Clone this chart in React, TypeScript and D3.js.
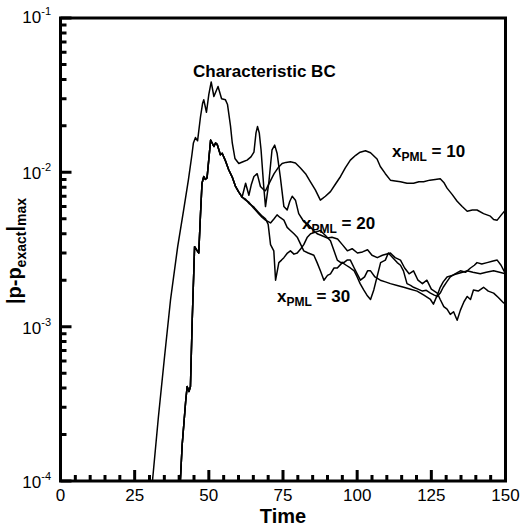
import React from "react";
import * as d3 from "d3";

// [time, |p - p_exact|_max]
const charBC: [number, number][] = [
  [31, 1.0e-4], [33, 2.6e-4], [35, 6.2e-4], [37.1, 1.5e-3], [39.5, 3.3e-3], [41.5, 5.7e-3],
  [43.1, 8.9e-3], [44.3, 1.3e-2], [44.8, 1.55e-2], [45.5, 1.68e-2], [46.2, 1.6e-2], [47.2, 2.3e-2],
  [47.9, 2.8e-2], [48.3, 2.95e-2], [49.2, 2.45e-2], [50.0, 3.2e-2], [50.8, 3.85e-2], [51.7, 3.1e-2],
  [53.1, 3.6e-2], [54.3, 3.0e-2], [55.6, 2.95e-2], [56.3, 2.75e-2], [57.3, 2.0e-2], [57.9, 1.55e-2],
  [58.8, 1.23e-2], [60.1, 1.14e-2], [61.5, 1.17e-2], [62.9, 1.2e-2], [64.2, 1.26e-2], [65.2, 1.35e-2],
  [65.9, 1.8e-2], [66.4, 1.98e-2], [67.0, 1.8e-2], [67.6, 1.4e-2], [68.5, 8.1e-3], [69.1, 6.0e-3],
  [70.2, 8.5e-3], [71.3, 1.4e-2], [72.2, 1.5e-2], [73.0, 1.33e-2], [74.1, 9.3e-3], [75.3, 6.0e-3],
  [76.4, 5.7e-3], [77.3, 6.5e-3], [78.1, 7.0e-3], [79.2, 6.6e-3], [80.3, 5.4e-3], [82.0, 4.8e-3],
  [83.5, 4.6e-3], [85.3, 4.2e-3], [86.5, 4.0e-3], [88.0, 3.9e-3], [90.0, 3.75e-3], [91.5, 3.8e-3],
  [93.4, 3.7e-3], [95.0, 3.4e-3], [96.7, 3.1e-3], [98.3, 3.2e-3], [100.1, 3.0e-3], [101.8, 3.05e-3],
  [103.5, 3.15e-3], [105.0, 2.9e-3], [106.8, 2.8e-3], [108.5, 2.9e-3], [111.2, 3.0e-3], [112.8, 2.8e-3],
  [114.6, 2.7e-3], [116, 2.4e-3], [117.5, 2.2e-3], [119, 2.3e-3], [120.5, 2.0e-3], [122, 1.9e-3],
  [123.5, 2.0e-3], [125, 1.75e-3], [127, 1.65e-3], [128, 1.5e-3], [129.2, 1.35e-3], [130.3, 1.3e-3],
  [131.4, 1.2e-3], [132.5, 1.25e-3], [133.7, 1.1e-3], [134.8, 1.28e-3], [136, 1.45e-3], [137.1, 1.57e-3],
  [138.2, 1.5e-3], [139.2, 1.73e-3], [140.8, 1.7e-3], [142.6, 1.8e-3], [144.2, 1.7e-3], [146, 1.65e-3],
  [147.5, 1.55e-3], [149.3, 1.43e-3], [150, 1.4e-3],
];

// early part shared by all three PML runs
const pmlCommon: [number, number][] = [
  [40.4, 1.0e-4], [41, 1.7e-4], [42.2, 3.3e-4], [42.7, 4.1e-4], [43.3, 3.8e-4], [43.8, 4.1e-4],
  [44.4, 1.1e-3], [45.2, 3.3e-3], [46.1, 3.1e-3], [46.6, 3.0e-3], [47.2, 5.4e-3], [47.7, 8.5e-3],
  [48.3, 9.4e-3], [48.8, 9.0e-3], [49.4, 9.2e-3], [50.6, 1.62e-2], [51.7, 1.47e-2], [52.3, 1.55e-2],
  [52.8, 1.52e-2], [53.9, 1.3e-2], [54.5, 1.33e-2], [55.5, 1.2e-2], [56.7, 1.04e-2], [58, 9.2e-3],
  [59, 8.1e-3], [60, 7.5e-3], [61.2, 6.9e-3],
];

const pml10Tail: [number, number][] = [
  [62.4, 8.5e-3], [63.5, 7.1e-3], [64.3, 8.3e-3], [65.2, 9.4e-3], [66.3, 9.8e-3], [67.4, 8.1e-3],
  [68.5, 7.7e-3], [69.1, 7.6e-3], [70.5, 8.6e-3], [72, 9.8e-3], [73.5, 1.08e-2], [74.7, 1.14e-2],
  [76, 1.16e-2], [77.5, 1.17e-2], [79.2, 1.15e-2], [80.8, 1.07e-2], [82.6, 9.8e-3], [84.2, 8.7e-3],
  [85.9, 7.7e-3], [87.6, 6.6e-3], [89.3, 7.0e-3], [91, 7.5e-3], [92.7, 8.4e-3], [94.4, 9.4e-3],
  [96, 1.07e-2], [97.7, 1.2e-2], [99.5, 1.29e-2], [101, 1.35e-2], [102.8, 1.38e-2], [104.5, 1.34e-2],
  [106.7, 1.22e-2], [107.8, 1.09e-2], [109.5, 9.8e-3], [111.2, 8.9e-3], [112.8, 8.8e-3], [114.6, 8.7e-3],
  [116.8, 8.5e-3], [119, 8.5e-3], [120.8, 8.7e-3], [122.4, 8.7e-3], [124.5, 8.9e-3], [126.3, 9.0e-3],
  [128, 9.1e-3], [129.2, 8.6e-3], [130.3, 7.9e-3], [132, 7.2e-3], [133.7, 6.5e-3], [135.4, 6.0e-3],
  [137.1, 5.6e-3], [138.8, 5.7e-3], [140.4, 5.7e-3], [142.6, 5.4e-3], [144.9, 5.2e-3], [146, 4.95e-3],
  [147.2, 4.9e-3], [148.6, 5.3e-3], [150, 5.7e-3],
];

const pml20Tail: [number, number][] = [
  [62.4, 6.6e-3], [63.5, 6.4e-3], [65, 5.9e-3], [66.8, 5.4e-3], [68, 5.1e-3], [69.1, 4.9e-3],
  [70.8, 4.7e-3], [72, 5.0e-3], [73, 5.3e-3], [74, 5.1e-3], [75.3, 4.9e-3], [76.4, 4.4e-3],
  [77.5, 4.2e-3], [78.7, 4.0e-3], [79.8, 3.8e-3], [81, 3.4e-3], [82, 3.1e-3], [83.5, 3.0e-3],
  [85.4, 2.9e-3], [86.5, 2.6e-3], [87.6, 2.3e-3], [88.8, 2.0e-3], [90, 2.15e-3], [91, 2.2e-3],
  [92.2, 2.4e-3], [93.3, 2.4e-3], [95, 2.6e-3], [96.3, 2.5e-3], [97.7, 2.4e-3], [99, 2.3e-3],
  [100, 2.1e-3], [101, 1.9e-3], [102.2, 1.73e-3], [103.3, 1.6e-3], [104.5, 1.5e-3], [105.6, 1.73e-3],
  [106.7, 2.1e-3], [107.9, 2.6e-3], [109.5, 2.7e-3], [110.5, 3.0e-3], [112, 2.8e-3], [113.5, 2.6e-3],
  [114.6, 2.5e-3], [115.6, 2.3e-3], [116.8, 1.9e-3], [118, 1.85e-3], [119, 1.8e-3], [120.5, 1.75e-3],
  [122, 1.7e-3], [123.3, 1.72e-3], [124.7, 1.65e-3], [126, 1.6e-3], [127, 1.57e-3], [128, 1.65e-3],
  [129, 1.8e-3], [130.2, 1.95e-3], [131.4, 2.1e-3], [133, 2.2e-3], [134.8, 2.3e-3], [136.5, 2.25e-3],
  [138.2, 2.4e-3], [139.5, 2.5e-3], [140.4, 2.6e-3], [142, 2.55e-3], [143.8, 2.6e-3], [145.5, 2.65e-3],
  [147.2, 2.7e-3], [148.5, 2.5e-3], [150, 2.2e-3],
];

const pml30Tail: [number, number][] = [
  [62.4, 6.7e-3], [63.5, 6.3e-3], [65, 6.0e-3], [66.8, 5.5e-3], [68, 5.2e-3], [69.1, 5.0e-3],
  [70, 4.6e-3], [70.8, 3.4e-3], [71.9, 3.1e-3], [72.5, 2.0e-3], [73.6, 2.6e-3], [74.5, 2.7e-3],
  [75.3, 2.8e-3], [76.5, 3.0e-3], [77.5, 3.1e-3], [78.7, 2.95e-3], [79.8, 3.0e-3], [81, 3.2e-3],
  [82, 3.4e-3], [83.2, 3.8e-3], [84.3, 4.0e-3], [86, 4.1e-3], [87.6, 4.2e-3], [89.3, 3.9e-3],
  [91, 3.6e-3], [92.2, 3.1e-3], [93.3, 2.7e-3], [94.5, 2.6e-3], [95.5, 2.6e-3], [96.6, 2.7e-3],
  [97.7, 2.7e-3], [99, 2.4e-3], [100, 2.2e-3], [101.1, 2.0e-3], [102.5, 2.1e-3], [103.5, 2.3e-3],
  [104.5, 2.3e-3], [106, 2.1e-3], [107.8, 2.0e-3], [109.5, 1.95e-3], [111.2, 1.9e-3], [113.5, 1.85e-3],
  [115.7, 1.8e-3], [118, 1.75e-3], [120.2, 1.7e-3], [122.5, 1.6e-3], [124.7, 1.5e-3], [125.7, 1.4e-3],
  [127, 1.6e-3], [128, 1.8e-3], [129, 1.95e-3], [130.3, 2.1e-3], [132, 2.15e-3], [133.7, 2.2e-3],
  [135.5, 2.25e-3], [137, 2.3e-3], [139, 2.25e-3], [141.5, 2.2e-3], [143.5, 2.25e-3], [146, 2.3e-3],
  [148, 2.25e-3], [150, 2.2e-3],
];

const xTicks = [0, 25, 50, 75, 100, 125, 150];
const yExponents = [-4, -3, -2, -1];

const FONT = "'Liberation Sans', Arial, Helvetica, sans-serif";

export default function App() {
  const W = 530;
  const H = 528;
  const x = d3.scaleLinear().domain([0, 150]).range([60.5, 505.5]);
  const y = d3.scaleLog().domain([1e-4, 1e-1]).range([481, 18]);

  const line = d3
    .line<[number, number]>()
    .x((d) => x(d[0]))
    .y((d) => y(d[1]));

  const series = [
    charBC,
    [...pmlCommon, ...pml10Tail],
    [...pmlCommon, ...pml20Tail],
    [...pmlCommon, ...pml30Tail],
  ];

  const xMinor = d3.range(0, 151, 5).filter((v) => v % 25 !== 0);
  const yAll = y.ticks();
  const isDecade = (v: number) => Math.abs(Math.log10(v) - Math.round(Math.log10(v))) < 1e-6;

  const x0 = 60.5;
  const x1 = 505.5;
  const y0 = 481;
  const y1 = 18;

  // tick segments built from the scales, pointing inward
  const tickPaths: string[] = [];
  xTicks.forEach((t) => tickPaths.push(`M${x(t)},${y0}V${y0 - 11}`));
  xMinor.forEach((t) => tickPaths.push(`M${x(t)},${y0}V${y0 - 6}`));
  yAll.forEach((v) => tickPaths.push(`M${x0},${y(v)}H${x0 + (isDecade(v) ? 11 : 6)}`));

  return (
    <svg width={W} height={H} style={{ position: "absolute", left: 0, top: 0, background: "#fff" }}>
      <defs>
        <clipPath id="plot">
          <rect x={x0} y={y1} width={x1 - x0} height={y0 - y1} />
        </clipPath>
      </defs>

      {/* curves */}
      <g clipPath="url(#plot)">
        {series.map((s, i) => (
          <path key={i} d={line(s) || ""} fill="none" stroke="#000" strokeWidth={1.5} strokeLinejoin="round" />
        ))}
      </g>

      <path d={tickPaths.join("")} fill="none" stroke="#000" strokeWidth={3} />

      {/* frame */}
      <rect x={x0} y={y1} width={x1 - x0} height={y0 - y1} fill="none" stroke="#000" strokeWidth={3} />

      {/* x tick labels */}
      <g fontFamily={FONT} fontSize={17} textAnchor="middle">
        {xTicks.map((t) => (
          <text key={t} x={x(t)} y={501}>
            {t}
          </text>
        ))}
      </g>

      {/* y tick labels */}
      <g fontFamily={FONT} fontSize={17} textAnchor="end">
        {yExponents.map((e) => (
          <text key={e} x={51} y={y(Math.pow(10, e)) + (e === -1 ? 5 : 7)}>
            10
            <tspan fontSize={11} dy={-8}>
              {"-" + Math.abs(e)}
            </tspan>
          </text>
        ))}
      </g>

      {/* axis titles */}
      <text x={283} y={523} fontFamily={FONT} fontSize={20} fontWeight="bold" textAnchor="middle">
        Time
      </text>
      <text
        transform="translate(21,251) rotate(-90)"
        fontFamily={FONT}
        fontSize={20}
        fontWeight="bold"
        textAnchor="middle"
      >
        |p-p
        <tspan fontSize={14} dy={5}>exact</tspan>
        <tspan dy={-5}>|</tspan>
        <tspan fontSize={14} dy={5}>max</tspan>
      </text>

      {/* annotations */}
      <g fontFamily={FONT} fontWeight="bold" fontSize={17}>
        <text x={193} y={77}>Characteristic BC</text>
        {[
          { label: "10", tx: 392, ty: 157 },
          { label: "20", tx: 302, ty: 229 },
          { label: "30", tx: 277, ty: 302 },
        ].map((a) => (
          <text key={a.label} x={a.tx} y={a.ty}>
            x
            <tspan fontSize={12} dy={4}>PML</tspan>
            <tspan dy={-4}>{" = " + a.label}</tspan>
          </text>
        ))}
      </g>
    </svg>
  );
}
